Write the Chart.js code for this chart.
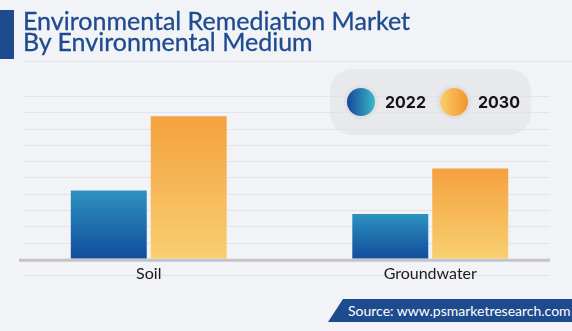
<!DOCTYPE html>
<html lang="en">
<head>
    <meta charset="UTF-8">
    <title>Environmental Remediation Market By Environmental Medium</title>
    <script src="https://cdn.jsdelivr.net/npm/chart.js"></script>
    <style>
        html, body { margin: 0; padding: 0; background: #f1f3f7; }
        .wrap { position: relative; width: 572px; height: 331px; overflow: hidden; background: #f1f3f7; }
        #marketChart { position: absolute; left: 0; top: 0; }
        .accent { position: absolute; left: 0; top: 10px; width: 14px; height: 49px; background: #1e4a8e; }
        .title {
            position: absolute; left: 23px; top: 10px; margin: 0;
            font-family: Lato, sans-serif; font-weight: 400; font-size: 25px; line-height: 21px;
            color: #1e4a8e; white-space: nowrap; -webkit-text-stroke: 0.3px #1e4a8e;
        }
        .title-rule { position: absolute; left: 23px; top: 61px; width: 549px; height: 1px; background: #e3e5ea; }
        .legend {
            position: absolute; left: 330px; top: 69px; width: 201px; height: 66px;
            border-radius: 22px; background: rgba(222, 224, 229, 0.55);
            font-family: Inter, sans-serif; font-weight: 700; font-size: 16px; color: #141414;
        }
        .legend .item { position: absolute; top: 0; height: 66px; display: flex; align-items: center; }
        .legend .dot {
            width: 28px; height: 28px; border-radius: 50%;
            box-shadow: 0 0 0 3px #e0e1e5; margin-right: 10px;
        }
        .source {
            position: absolute; left: 328px; top: 299px; width: 244px; height: 23px;
            background: #1e4a8e; clip-path: polygon(15px 0, 100% 0, 100% 100%, 0 100%);
            color: #ffffff; font-family: Lato, sans-serif; font-size: 14px; line-height: 23px;
            padding-left: 20px; box-sizing: border-box; white-space: nowrap;
        }
    </style>
</head>
<body>
<div class="wrap">
    <canvas id="marketChart" width="572" height="331"></canvas>
    <div class="accent"></div>
    <h1 class="title">Environmental Remediation Market<br>By Environmental Medium</h1>
    <div class="title-rule"></div>
    <div class="legend" id="legend"></div>
    <div class="source">Source: www.psmarketresearch.com</div>
</div>
<script>
    // categories and series (relative bar heights)
    const categories = ['Soil', 'Groundwater'];
    const seriesNames = ['2022', '2030'];
    const values2022 = [4.2, 2.75];
    const values2030 = [8.75, 5.55];
    const gridTicks = [-1, 1, 2, 3, 4, 5, 6, 7, 8, 9, 10];

    const blueTop = '#2d92c0', blueBottom = '#124c9c';
    const orangeTop = '#f5a13f', orangeBottom = '#f8cf70';

    // legend
    const legendEl = document.getElementById('legend');
    const legendCfg = [
        { name: seriesNames[0], left: 17, grad: 'linear-gradient(90deg, #17479a, #3bb9c9)' },
        { name: seriesNames[1], left: 110, grad: 'linear-gradient(90deg, #f9d06e, #f5932a)' }
    ];
    legendCfg.forEach(l => {
        const item = document.createElement('div');
        item.className = 'item';
        item.style.left = l.left + 'px';
        item.innerHTML = '<span class="dot" style="background:' + l.grad + '"></span><span>' + l.name + '</span>';
        legendEl.appendChild(item);
    });

    function barGradient(top, bottom) {
        return function(context) {
            const chart = context.chart;
            if (!chart.chartArea || context.raw === undefined) return top;
            const y = chart.scales.y;
            const y1 = y.getPixelForValue(context.raw);
            const y0 = y.getPixelForValue(0);
            const g = chart.ctx.createLinearGradient(0, y1, 0, y0);
            g.addColorStop(0, top);
            g.addColorStop(1, bottom);
            return g;
        };
    }

    // background grid lines (under the labels) and the grey base line
    const decor = {
        id: 'decor',
        beforeDraw(chart) {
            const c = chart.ctx, y = chart.scales.y;
            c.save();
            c.strokeStyle = '#e2e4ea';
            c.lineWidth = 1;
            gridTicks.forEach(t => {
                const py = Math.round(y.getPixelForValue(t)) + 0.5;
                c.beginPath();
                c.moveTo(24, py);
                c.lineTo(550, py);
                c.stroke();
            });
            c.restore();
        },
        afterDatasetsDraw(chart) {
            const c = chart.ctx, y = chart.scales.y;
            const py = y.getPixelForValue(0) + 1.5;
            c.save();
            c.strokeStyle = '#c4c4c8';
            c.lineWidth = 3;
            c.beginPath();
            c.moveTo(19, py);
            c.lineTo(550, py);
            c.stroke();
            c.restore();
        }
    };

    new Chart(document.getElementById('marketChart').getContext('2d'), {
        type: 'bar',
        data: {
            labels: categories,
            datasets: [
                { label: seriesNames[0], data: values2022, backgroundColor: barGradient(blueTop, blueBottom) },
                { label: seriesNames[1], data: values2030, backgroundColor: barGradient(orangeTop, orangeBottom) }
            ]
        },
        options: {
            responsive: false,
            animation: false,
            layout: { padding: { left: 8, right: 1, top: 96, bottom: 43 } },
            categoryPercentage: 0.568,
            barPercentage: 0.95,
            plugins: { legend: { display: false }, tooltip: { enabled: false } },
            scales: {
                x: {
                    grid: { display: false, drawTicks: false },
                    border: { display: false },
                    ticks: { color: '#1a1a1a', padding: 5, font: { family: 'Lato', size: 16 } }
                },
                y: { display: false, min: 0, max: 10 }
            }
        },
        plugins: [decor]
    });
</script>
</body>
</html>
